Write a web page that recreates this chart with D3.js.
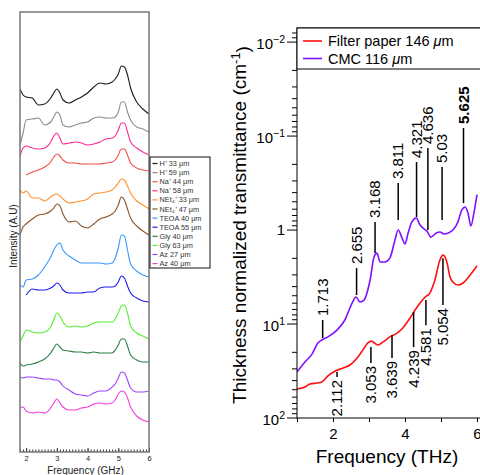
<!DOCTYPE html>
<html>
<head>
<meta charset="utf-8">
<script src="https://cdn.jsdelivr.net/npm/d3@7"></script>
<style>
  body { margin: 0; background: #fff; }
  svg { display: block; font-family: "Liberation Sans", Arial, sans-serif; }
</style>
</head>
<body>
<svg id="chart"></svg>
<script>
// ---- left panel: stacked spectra (GHz) ----
const ghz = [1.8, 1.9, 2.0, 2.2, 2.4, 2.6, 2.8, 2.9, 3.0, 3.1, 3.2, 3.4, 3.6, 3.8, 4.0,
             4.2, 4.4, 4.6, 4.8, 4.9, 5.0, 5.1, 5.2, 5.3, 5.4, 5.6, 5.8, 6.0];
// intensity (arbitrary units, offset already included)
const h33   = [363,357,355,354,347,348,354,359,363,359,352,349,352,355,359,365,369,368,370,373,378,386,385,377,364,350,343,338];
const h59   = [307,319,332,333,334,327,330,335,340,337,327,325,327,329,330,334,335,334,334,335,340,350,350,340,332,325,323,320];
const na58  = [296,304,306,304,303,304,310,316,319,314,308,309,310,309,307,308,310,313,314,316,322,329,329,320,310,304,300,297];
const na44  = [null,null,277,280,282,285,290,295,298,296,292,289,289,288,288,288,288,289,290,292,297,303,303,297,289,284,282,281];
const net33 = [262,259,261,254,254,251,255,257,258,256,253,249,250,251,253,258,259,260,262,265,269,273,272,266,259,251,247,243];
const net47 = [217,225,228,233,237,238,241,244,248,246,238,230,231,226,224,228,233,235,238,241,247,255,252,243,234,226,221,217];
const teoa40 = [167,165,172,173,177,185,195,202,207,209,202,196,192,189,189,189,189,188,189,194,204,217,216,202,188,181,177,175];
const teoa55 = [null,null,157,163,162,162,164,166,169,167,162,159,159,159,160,160,164,165,165,166,170,176,174,166,159,154,151,150];
const gly63 = [110,116,122,120,119,120,125,132,139,136,130,125,126,125,126,129,130,130,130,133,139,146,147,139,126,119,116,113];
const gly40 = [89,86,87,88,90,93,99,104,108,105,102,101,100,100,99,100,99,99,99,102,107,113,113,106,97,92,90,90];
const az27  = [75,74,75,75,74,73,73,72,72,70,66,62,58,57,56,59,61,61,65,68,74,80,79,72,64,60,60,61];
const az40  = [44,45,41,39,40,39,44,49,53,49,45,42,42,44,45,48,49,48,49,52,58,61,60,54,45,36,32,30];

const legendNames = ["H⁺ 33 μm", "H⁺ 59 μm", "Na⁺ 44 μm", "Na⁺ 58 μm", "NEt₄⁺ 33 μm", "NEt₄⁺ 47 μm",
                     "TEOA 40 μm", "TEOA 55 μm", "Gly 40 μm", "Gly 63 μm", "Az 27 μm", "Az 40 μm"];
const legendSeries = [h33, h59, na44, na58, net33, net47, teoa40, teoa55, gly40, gly63, az27, az40];
const legendColors = ["#1a1a1a", "#8c8c8c", "#ee4d4d", "#ff2a99", "#ff8f2a", "#8b5224",
                      "#3a96ff", "#1c1cf0", "#2a7d45", "#55ee30", "#9a45ff", "#f040dc"];
const ghzTicks = [2, 3, 4, 5, 6];

// ---- right panel: transmittance (THz) ----
const cmcFreq = [1.00,1.22,1.42,1.58,1.69,1.86,2.11,2.33,2.53,2.64,2.75,2.86,3.03,3.14,3.22,3.31,3.44,3.58,3.72,3.81,
                 3.92,4.00,4.08,4.19,4.31,4.42,4.53,4.61,4.72,4.86,4.97,5.08,5.19,5.33,5.47,5.58,5.67,5.75,5.83,5.92,6.00];
const cmcVal  = [32.4,25.4,20.8,15.9,14.8,13.7,11.6,9.06,5.98,5.16,5.83,5.56,3.40,1.94,1.76,2.19,2.19,1.99,1.28,1.00,
                 1.22,1.41,1.10,0.82,0.745,0.885,0.975,1.03,1.19,1.08,1.05,1.10,1.08,1.00,0.82,0.61,0.57,0.66,0.905,0.64,0.42];
const paperFreq = [1.00,1.22,1.36,1.56,1.69,1.86,2.06,2.28,2.47,2.67,2.83,2.97,3.06,3.25,3.39,3.58,3.78,3.94,4.14,4.28,
                   4.42,4.56,4.69,4.83,4.97,5.06,5.17,5.25,5.33,5.47,5.61,5.81,6.00];
const paperVal  = [49.1,46.8,43.5,42.4,41.4,35.7,31.6,29.4,27.3,23.0,18.9,15.9,15.2,16.7,15.5,13.7,12.5,11.0,8.63,7.10,
                   5.98,5.16,4.68,3.40,2.08,1.85,2.24,3.16,3.57,3.85,3.66,3.01,2.40];

// peak markers: label, marker line from..to (transmittance units)
const cmcPeaks   = ["1.713", "2.655", "3.168", "3.811", "4.321", "4.636", "5.03", "5.625"];
const cmcLineLo  = [14.1, 4.91, 1.76, 0.78, 0.728, 1.0, 0.78, 0.516];
const cmcLineHi  = [9.06, 2.54, 0.82, 0.316, 0.189, 0.134, 0.214, 0.082];
const paperPeaks  = ["2.112", "3.053", "3.639", "4.239", "4.581", "5.054"];
const paperLineHi = [32.4, 17.6, 13.1, 7.45, 5.56, 1.99];
const paperLineLo = [36.6, 26.0, 23.0, 17.6, 10.3, 6.28];

const thzTicks = [1, 2, 3, 4, 5, 6];
const decades = [-2, -1, 0, 1, 2];
const seriesNames = ["Filter paper 146 ", "CMC 116 "];

function Chart() {
  const width = 480, height = 475;
  const svg = d3.select("#chart")
      .attr("width", width)
      .attr("height", height)
      .attr("viewBox", [0, 0, width, height]);

  // ===== left panel =====
  const lLeft = 20, lRight = 149, lTop = 12, lBottom = 452;
  const xL = d3.scaleLinear().domain([1.8, 6]).range([lLeft, lRight]);
  const yL = d3.scaleLinear().domain([0, 440]).range([lBottom, lTop]);

  svg.append("clipPath").attr("id", "clipL")
    .append("rect").attr("x", lLeft).attr("y", lTop)
    .attr("width", lRight - lLeft).attr("height", lBottom - lTop);

  const lineL = d3.line()
      .defined(d => d[1] != null)
      .x(d => xL(d[0]))
      .y(d => yL(d[1]))
      .curve(d3.curveMonotoneX);

  svg.append("g")
      .attr("clip-path", "url(#clipL)")
      .attr("fill", "none")
      .attr("stroke-width", 1.1)
    .selectAll("path")
    .data(legendSeries)
    .join("path")
      .attr("stroke", (d, i) => legendColors[i])
      .attr("d", s => lineL(ghz.map((f, i) => [f, s[i]])));

  // minor + major ticks (inward)
  svg.append("g")
      .attr("transform", `translate(0,${lBottom})`)
      .call(d3.axisBottom(xL).tickValues(d3.range(18, 61).map(v => v / 10)).tickSize(-2.5).tickFormat(""))
      .call(g => g.select(".domain").remove())
      .call(g => g.selectAll("line").attr("stroke", "#333"));
  svg.append("g")
      .attr("transform", `translate(0,${lBottom})`)
      .call(d3.axisBottom(xL).tickValues(ghzTicks).tickSize(-4).tickPadding(4).tickFormat(d3.format("d")))
      .call(g => g.select(".domain").remove())
      .call(g => g.selectAll("line").attr("stroke", "#333"))
      .call(g => g.selectAll("text").attr("font-size", 7.5).attr("font-family", null).attr("fill", "#222"));

  svg.append("rect")
      .attr("x", lLeft).attr("y", lTop)
      .attr("width", lRight - lLeft).attr("height", lBottom - lTop)
      .attr("fill", "none").attr("stroke", "#777").attr("stroke-width", 1.5);

  svg.append("text")
      .attr("x", (lLeft + lRight) / 2 + 1)
      .attr("y", 474)
      .attr("font-size", 10)
      .attr("text-anchor", "middle")
      .attr("fill", "#222")
      .text("Frequency (GHz)");
  svg.append("text")
      .attr("transform", `translate(17,236) rotate(-90)`)
      .attr("font-size", 10)
      .attr("text-anchor", "middle")
      .attr("fill", "#222")
      .text("Intensity (A.U)");

  // legend
  const leg = svg.append("g").attr("transform", "translate(150,157)");
  leg.append("rect")
      .attr("width", 60).attr("height", 111)
      .attr("fill", "#fff").attr("stroke", "#111").attr("stroke-width", 1);
  const rows = leg.selectAll("g").data(legendNames).join("g")
      .attr("transform", (d, i) => `translate(0,${6.5 + i * 9.1})`);
  rows.append("line")
      .attr("x1", 2.5).attr("x2", 7.5)
      .attr("stroke", (d, i) => legendColors[i]).attr("stroke-width", 1.2);
  rows.append("text")
      .attr("x", 9.5).attr("dy", "0.35em")
      .attr("font-size", 7.3).attr("fill", "#333")
      .text(d => d);

  // ===== right panel =====
  const rLeft = 297, rRight = 477, rTop = 28, rBottom = 418;
  const xR = d3.scaleLinear().domain([1, 6]).range([rLeft, rRight]);
  const yR = d3.scaleLog().domain([Math.pow(10, -2.15), 100]).range([rTop, rBottom]);

  svg.append("clipPath").attr("id", "clipR")
    .append("rect").attr("x", rLeft).attr("y", rTop)
    .attr("width", rRight - rLeft + 3).attr("height", rBottom - rTop);

  const lineR = d3.line()
      .x(d => xR(d[0]))
      .y(d => yR(d[1]))
      .curve(d3.curveMonotoneX);

  svg.append("path")
      .attr("clip-path", "url(#clipR)")
      .attr("fill", "none").attr("stroke", "#ff1010").attr("stroke-width", 1.6)
      .attr("d", lineR(paperFreq.map((f, i) => [f, paperVal[i]])));
  svg.append("path")
      .attr("clip-path", "url(#clipR)")
      .attr("fill", "none").attr("stroke", "#8010ff").attr("stroke-width", 1.6)
      .attr("d", lineR(cmcFreq.map((f, i) => [f, cmcVal[i]])));

  // peak markers, CMC (text above the line)
  const cm = svg.append("g");
  cmcPeaks.forEach((p, i) => {
    const x = xR(+p);
    cm.append("line")
        .attr("x1", x).attr("x2", x)
        .attr("y1", yR(cmcLineLo[i])).attr("y2", yR(cmcLineHi[i]))
        .attr("stroke", "#000").attr("stroke-width", 1.5);
    cm.append("text")
        .attr("transform", `translate(${x},${yR(cmcLineHi[i]) - 4}) rotate(-90)`)
        .attr("dy", "0.35em")
        .attr("font-size", 15)
        .attr("font-weight", p === "5.625" ? "bold" : null)
        .attr("text-anchor", "start")
        .text(p);
  });
  // peak markers, filter paper (text below the line)
  paperPeaks.forEach((p, i) => {
    const x = xR(+p);
    cm.append("line")
        .attr("x1", x).attr("x2", x)
        .attr("y1", yR(paperLineHi[i])).attr("y2", yR(paperLineLo[i]))
        .attr("stroke", "#000").attr("stroke-width", 1.5);
    cm.append("text")
        .attr("transform", `translate(${x},${yR(paperLineLo[i]) + 3}) rotate(-90)`)
        .attr("dy", "0.35em")
        .attr("font-size", 15)
        .attr("text-anchor", "end")
        .text(p);
  });

  // x axis
  svg.append("g")
      .attr("transform", `translate(0,${rBottom})`)
      .call(d3.axisBottom(xR).tickValues(thzTicks).tickSize(4).tickPadding(6)
            .tickFormat(d => d % 2 === 0 ? d : ""))
      .call(g => g.select(".domain").remove())
      .call(g => g.selectAll("text").attr("font-size", 15).attr("font-family", null).attr("fill", "#000"));

  // y axis (log, drawn by hand for the 10^n labels)
  const yAx = svg.append("g");
  const minor = [];
  for (let k = -3; k < 2; k++) for (let m = 2; m <= 9; m++) {
    const v = m * Math.pow(10, k);
    if (v >= yR.domain()[0] && v <= 100) minor.push(v);
  }
  yAx.selectAll(".mn").data(minor).join("line")
      .attr("x1", rLeft - 5).attr("x2", rLeft)
      .attr("y1", d => yR(d)).attr("y2", d => yR(d))
      .attr("stroke", "#000");
  yAx.selectAll(".mj").data(decades).join("line")
      .attr("x1", rLeft - 10).attr("x2", rLeft)
      .attr("y1", d => yR(Math.pow(10, d))).attr("y2", d => yR(Math.pow(10, d)))
      .attr("stroke", "#000");
  const lab = yAx.selectAll("text").data(decades).join("text")
      .attr("x", rLeft - 12)
      .attr("y", d => yR(Math.pow(10, d)))
      .attr("dy", d => d === 0 ? "0.35em" : "0.45em")
      .attr("font-size", 15)
      .attr("text-anchor", "end");
  lab.filter(d => d === 0).text("1");
  lab.filter(d => d !== 0).each(function(d) {
    const t = d3.select(this);
    t.append("tspan").text("10");
    t.append("tspan").attr("dy", "-0.55em").attr("font-size", 10.5).text(d < 0 ? "−" + (-d) : d);
  });

  // frame
  svg.append("rect")
      .attr("x", rLeft).attr("y", rTop)
      .attr("width", width - rLeft + 5).attr("height", rBottom - rTop)
      .attr("fill", "none").attr("stroke", "#000").attr("stroke-width", 1);

  // legend
  const lg = svg.append("g").attr("transform", `translate(${rLeft},${rTop})`);
  lg.append("rect")
      .attr("width", 190).attr("height", 41)
      .attr("fill", "#fff").attr("stroke", "#000");
  const lr = lg.selectAll("g").data(seriesNames).join("g")
      .attr("transform", (d, i) => `translate(0,${13 + i * 17.5})`);
  lr.append("line").attr("x1", 6).attr("x2", 25)
      .attr("stroke", (d, i) => i === 0 ? "#ff1010" : "#8010ff").attr("stroke-width", 1.6);
  const lt = lr.append("text").attr("x", 31).attr("dy", "0.36em").attr("font-size", 14.5);
  lt.append("tspan").text(d => d);
  lt.append("tspan").attr("font-style", "italic").text("μ");
  lt.append("tspan").text("m");

  // axis titles
  svg.append("text")
      .attr("x", (rLeft + rRight) / 2)
      .attr("y", 463)
      .attr("font-size", 19)
      .attr("text-anchor", "middle")
      .text("Frequency (THz)");
  const yt = svg.append("text")
      .attr("transform", `translate(246,${(rTop + rBottom) / 2 + 2}) rotate(-90)`)
      .attr("font-size", 19)
      .attr("text-anchor", "middle");
  yt.append("tspan").text("Thickness normalized transmittance (cm");
  yt.append("tspan").attr("dy", "-0.5em").attr("font-size", 13).text("-1");
  yt.append("tspan").attr("dy", "0.5em").text(")");
}
Chart();
</script>
</body>
</html>
